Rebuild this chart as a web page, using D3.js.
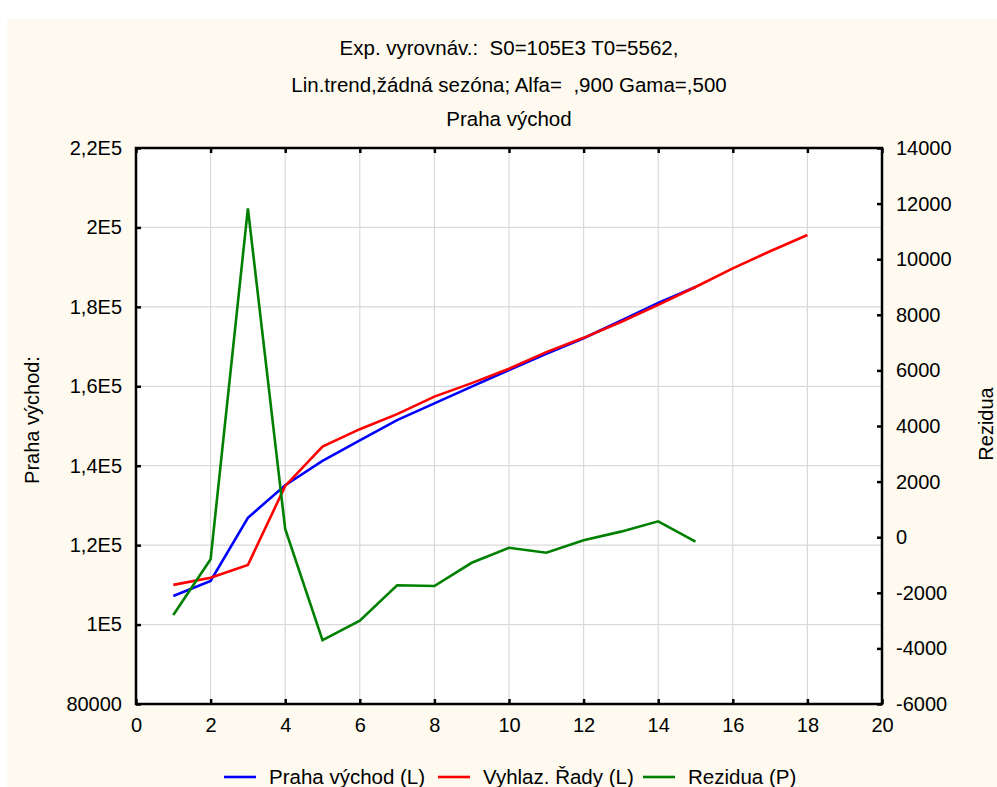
<!DOCTYPE html>
<html>
<head>
<meta charset="utf-8">
<script src="https://cdn.jsdelivr.net/npm/d3@7"></script>
<style>
  html, body { margin: 0; padding: 0; background: #ffffff; }
  svg { display: block; font-family: "Liberation Sans", Arial, sans-serif; }
  text { white-space: pre; }
</style>
</head>
<body>
<script>
// values
const periods = d3.range(1, 19);
const praha = [107200, 110970, 126900, 135100, 141200, 146400, 151500, 155700, 159900, 164100, 168200, 172100, 176500, 181000, 185000];
const vyhlaz = [110000, 111800, 115000, 134900, 144800, 149200, 153000, 157400, 160800, 164400, 168600, 172200, 176200, 180500, 185000, 189700, 194000, 198100];
const rezidua = [-2800, -795, 11830, 295, -3700, -3000, -1730, -1755, -920, -380, -560, -110, 200, 570, -160];

const xTicks = d3.range(0, 21, 2);
const leftTicks = [80000, 100000, 120000, 140000, 160000, 180000, 200000, 220000];
const leftTickLabels = ["80000", "1E5", "1,2E5", "1,4E5", "1,6E5", "1,8E5", "2E5", "2,2E5"];
const rightTicks = d3.range(-6000, 14001, 2000);

const titles = ["Exp. vyrovnáv.:  S0=105E3 T0=5562,", "Lin.trend,žádná sezóna; Alfa=  ,900 Gama=,500", "Praha východ"];
const seriesNames = ["Praha východ (L)", "Vyhlaz. Řady (L)", "Rezidua (P)"];
const seriesColors = ["#0000ff", "#ff0000", "#008000"];

const W = 997, H = 787;
const M = {left: 136, right: 882, top: 148, bottom: 704};

const svg = d3.select("body").append("svg").attr("width", W).attr("height", H);

svg.append("rect").attr("x", 7).attr("y", 19).attr("width", W - 7).attr("height", H - 19).attr("fill", "#fefaef");
svg.append("rect").attr("x", M.left).attr("y", M.top).attr("width", M.right - M.left).attr("height", M.bottom - M.top).attr("fill", "#ffffff");

const x = d3.scaleLinear().domain([0, 20]).range([M.left, M.right]);
const yL = d3.scaleLinear().domain([80000, 220000]).range([M.bottom, M.top]);
const yR = d3.scaleLinear().domain([-6000, 14000]).range([M.bottom, M.top]);

// grid
const grid = svg.append("g").attr("stroke", "#d9d9d9").attr("stroke-width", 1.2);
grid.selectAll(".gx").data(xTicks.slice(1, -1)).enter().append("line")
  .attr("x1", d => x(d)).attr("x2", d => x(d)).attr("y1", M.top).attr("y2", M.bottom);
grid.selectAll(".gy").data(leftTicks.slice(1, -1)).enter().append("line")
  .attr("x1", M.left).attr("x2", M.right).attr("y1", d => yL(d)).attr("y2", d => yL(d));

// series
const line = (yScale) => d3.line().x((d, i) => x(periods[i])).y(d => yScale(d));
svg.append("path").datum(praha).attr("d", line(yL)).attr("fill", "none").attr("stroke", seriesColors[0]).attr("stroke-width", 2.6);
svg.append("path").datum(vyhlaz).attr("d", line(yL)).attr("fill", "none").attr("stroke", seriesColors[1]).attr("stroke-width", 2.6);
svg.append("path").datum(rezidua).attr("d", line(yR)).attr("fill", "none").attr("stroke", seriesColors[2]).attr("stroke-width", 2.6);

// axes (ticks pointing inward)
const fmtL = d3.scaleOrdinal().domain(leftTicks).range(leftTickLabels);
const fmtR = d => String(d);
const axB = svg.append("g").attr("transform", `translate(0,${M.bottom})`)
  .call(d3.axisBottom(x).tickValues(xTicks).tickSizeInner(-5).tickSizeOuter(0).tickPadding(14).tickFormat(d => String(d)));
const axT = svg.append("g").attr("transform", `translate(0,${M.top})`)
  .call(d3.axisTop(x).tickValues(xTicks).tickSizeInner(-5).tickSizeOuter(0).tickFormat(""));
const axL = svg.append("g").attr("transform", `translate(${M.left},0)`)
  .call(d3.axisLeft(yL).tickValues(leftTicks).tickSizeInner(-5).tickSizeOuter(0).tickPadding(14).tickFormat(d => fmtL(d)));
const axR = svg.append("g").attr("transform", `translate(${M.right},0)`)
  .call(d3.axisRight(yR).tickValues(rightTicks).tickSizeInner(-5).tickSizeOuter(0).tickPadding(14).tickFormat(fmtR));

[axB, axT, axL, axR].forEach(a => {
  a.select(".domain").remove();
  a.selectAll(".tick line").attr("stroke", "#000").attr("stroke-width", 2.5);
  a.selectAll(".tick text").attr("font-size", 20).attr("fill", "#000").attr("font-family", "Liberation Sans, Arial, sans-serif");
});

svg.append("rect").attr("x", M.left).attr("y", M.top).attr("width", M.right - M.left).attr("height", M.bottom - M.top)
  .attr("fill", "none").attr("stroke", "#000").attr("stroke-width", 2.5);

// titles
svg.selectAll(".title").data(titles).enter().append("text")
  .attr("x", (M.left + M.right) / 2).attr("y", (d, i) => [55, 92, 126][i])
  .attr("text-anchor", "middle").attr("font-size", 20.5).text(d => d);

// axis titles
svg.append("text").attr("transform", "translate(39,420) rotate(-90)").attr("text-anchor", "middle").attr("font-size", 20).text("Praha východ:");
svg.append("text").attr("transform", "translate(993,424) rotate(-90)").attr("text-anchor", "middle").attr("font-size", 20).text("Rezidua");

// legend
const legX = [224, 438, 643];
const leg = svg.selectAll(".leg").data(seriesNames).enter().append("g")
  .attr("transform", (d, i) => `translate(${legX[i]},777)`);
leg.append("line").attr("x1", 0).attr("x2", 32).attr("stroke", (d, i) => seriesColors[i]).attr("stroke-width", 2.6);
leg.append("text").attr("x", 45).attr("y", 7).attr("font-size", 20.5).text(d => d);
</script>
</body>
</html>
